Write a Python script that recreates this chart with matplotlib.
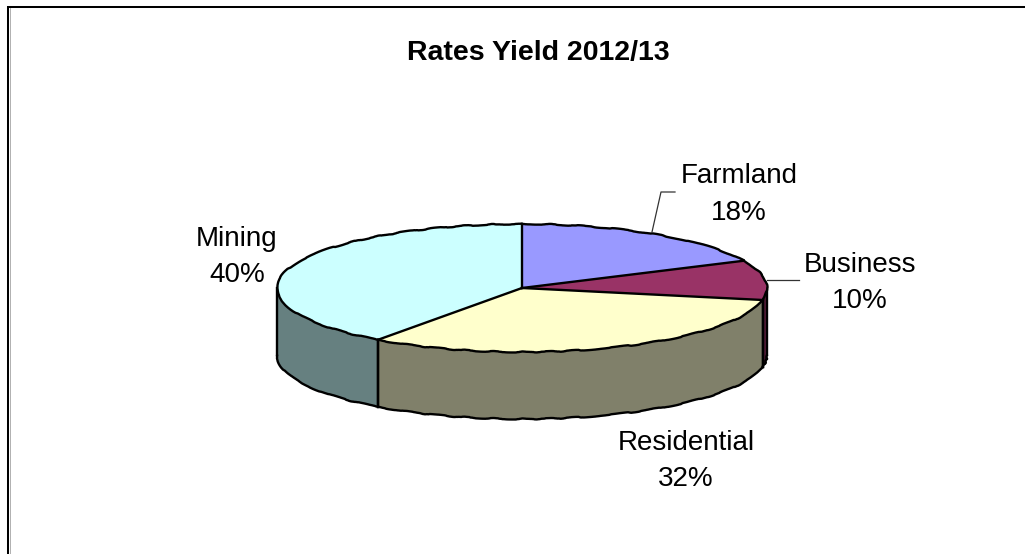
import numpy as np
import matplotlib
matplotlib.use("Agg")
import matplotlib.pyplot as plt
from matplotlib.patches import Polygon

labels = ["Farmland", "Business", "Residential", "Mining"]
shares = [18, 10, 32, 40]
top_colors = ["#9999FF", "#993366", "#FFFFCC", "#CCFFFF"]
side_colors = ["#5C5C99", "#5C1F3D", "#80806A", "#668080"]
# label centre x, baseline of the name line
label_xy = [(739, 183), (859.5, 272), (686, 450), (237, 246)]

plt.rcParams['font.family'] = ['Liberation Sans', 'DejaVu Sans']

W, H = 1025, 554
CX, CY = 522, 288   # centre of the pie top
RX, RY = 245, 64
DEPTH = 67
LINE_GAP = 36.5
EDGE_LW = 1.7


def rim(a0, a1, n=80):
    # points on the ellipse, angle clockwise from 12 o'clock
    t = np.radians(np.linspace(a0, a1, n))
    return np.column_stack([CX + RX*np.sin(t), CY - RY*np.cos(t)])


def rough_line(pts, z):
    # curved edges are slightly uneven
    line, = ax.plot(pts[:, 0], pts[:, 1], color="black", lw=EDGE_LW,
                    solid_capstyle="round", zorder=z)
    line.set_sketch_params(scale=0.55, length=60, randomness=8)


fig = plt.figure(figsize=(W/100, H/100), dpi=100)
ax = fig.add_axes([0, 0, 1, 1])
ax.set_xlim(0, W)
ax.set_ylim(H, 0)
ax.axis("off")

# chart frame, left and top edges only
ax.plot([8.3, 8.3, W], [H, 7, 7], color="black", lw=1.45,
        solid_joinstyle="miter", zorder=1)
ax.plot([9.8, 9.8], [H, 8], color="#b0b0b0", lw=0.7, zorder=1)

edges = np.cumsum([0] + shares) * 3.6

# side wall, only the part of the rim that faces the viewer (90..270 deg)
for i in range(len(shares)):
    a0 = max(edges[i], 90)
    a1 = min(edges[i+1], 270)
    if a1 <= a0:
        continue
    front = rim(a0, a1)
    lower = front + [0, DEPTH]
    wall = np.vstack([front, lower[::-1]])
    ax.add_patch(Polygon(wall, closed=True, facecolor=side_colors[i],
                         edgecolor="none", zorder=2))
    rough_line(lower, 2.5)
    ax.plot([front[0, 0], lower[0, 0]], [front[0, 1], lower[0, 1]],
            color="black", lw=EDGE_LW, zorder=2.5)
    ax.plot([front[-1, 0], lower[-1, 0]], [front[-1, 1], lower[-1, 1]],
            color="black", lw=EDGE_LW, zorder=2.5)

# top slices
for i in range(len(shares)):
    arc = rim(edges[i], edges[i+1])
    pts = np.vstack([[CX, CY], arc])
    ax.add_patch(Polygon(pts, closed=True, facecolor=top_colors[i],
                         edgecolor="none", zorder=3))
    rough_line(arc, 3.5)
    ax.plot([CX, arc[0, 0]], [CY, arc[0, 1]], color="black", lw=EDGE_LW, zorder=3.5)

# leader lines
ax.plot([652, 661, 675], [232, 192, 192], color="#333333", lw=0.9, zorder=4)
ax.plot([767, 799], [280, 280], color="#333333", lw=0.9, zorder=4)

for name, val, (x, y) in zip(labels, shares, label_xy):
    ax.text(x, y, name, ha="center", va="baseline", fontsize=20,
            color="black", zorder=5)
    ax.text(x, y + LINE_GAP, f"{val}%", ha="center", va="baseline", fontsize=20,
            color="black", zorder=5)

ax.text(538, 60, "Rates Yield 2012/13", ha="center", va="baseline", fontsize=20.5,
        fontweight="bold", color="black", zorder=5)

fig.savefig("out.png", dpi=100)
